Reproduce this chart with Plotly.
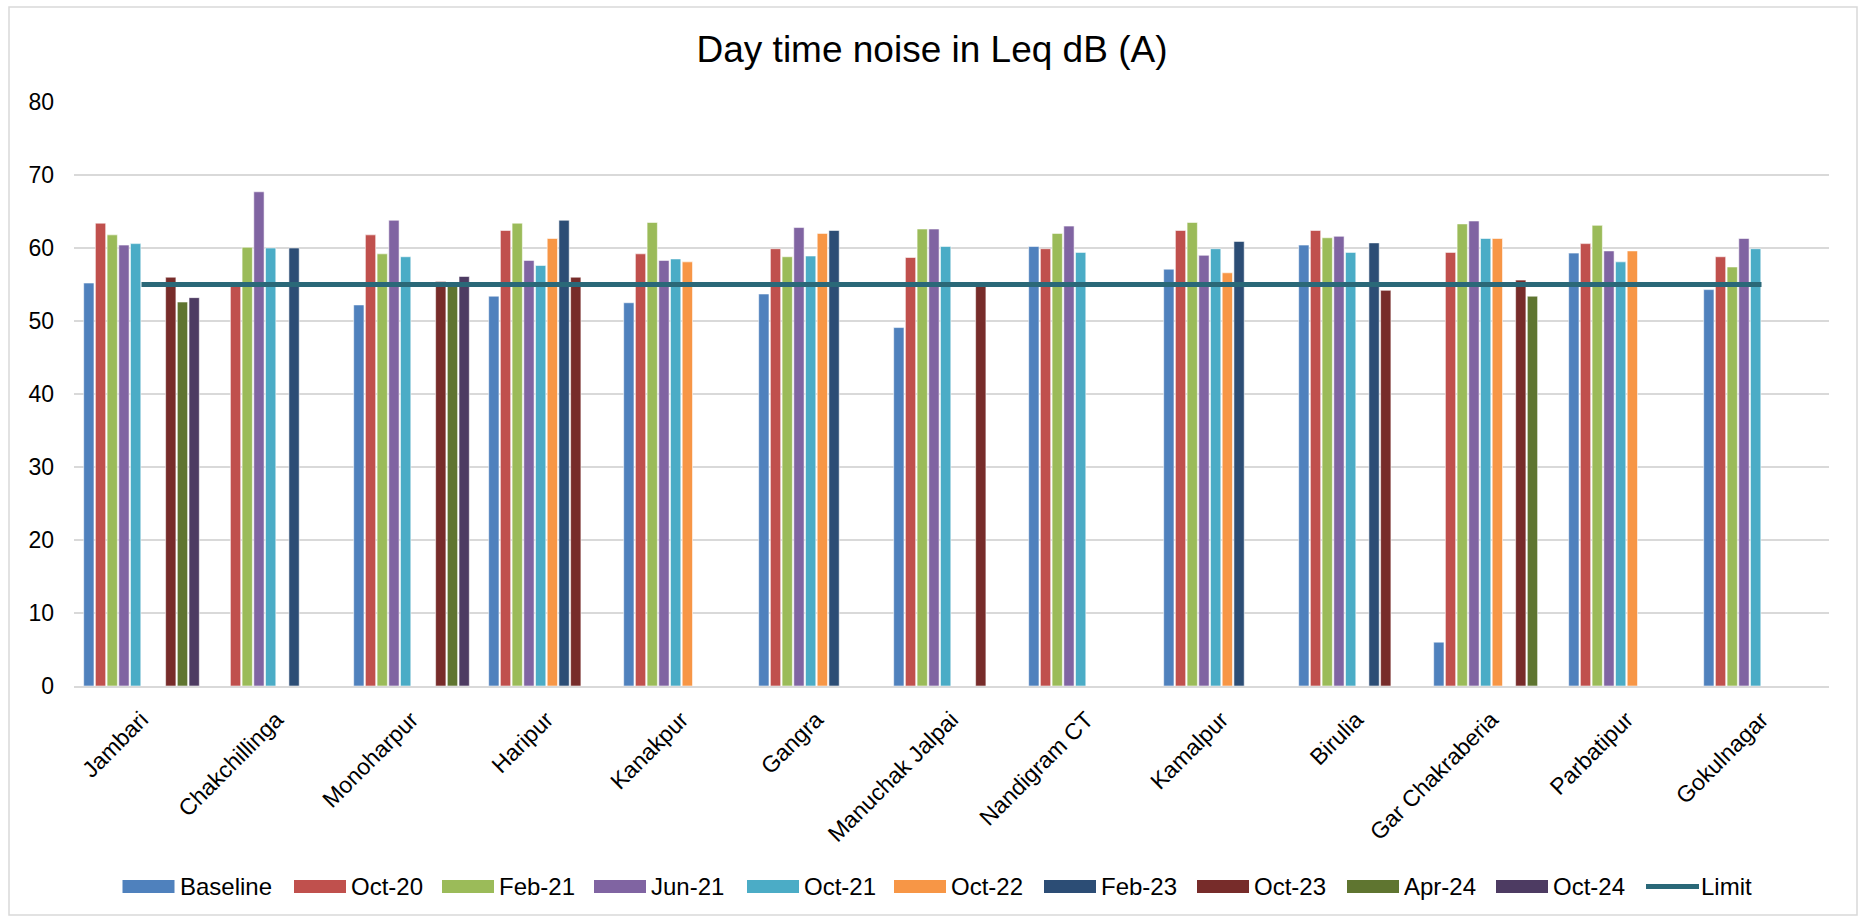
import plotly.graph_objects as go

# ---------------- data ----------------
categories = ["Jambari", "Chakchillinga", "Monoharpur", "Haripur", "Kanakpur", "Gangra",
              "Manuchak Jalpai", "Nandigram CT", "Kamalpur", "Birulia", "Gar Chakraberia",
              "Parbatipur", "Gokulnagar"]

baseline = [55.2, None, 52.2, 53.4, 52.5, 53.7, 49.1, 60.2, 57.1, 60.4, 6.0, 59.3, 54.3]
oct_20 = [63.4, 55.0, 61.8, 62.4, 59.2, 59.9, 58.7, 59.9, 62.4, 62.4, 59.4, 60.6, 58.8]
feb_21 = [61.8, 60.1, 59.2, 63.4, 63.5, 58.8, 62.6, 62.0, 63.5, 61.4, 63.3, 63.1, 57.4]
jun_21 = [60.4, 67.7, 63.8, 58.3, 58.3, 62.8, 62.6, 63.0, 59.0, 61.6, 63.7, 59.6, 61.3]
oct_21 = [60.6, 60.0, 58.8, 57.6, 58.5, 58.9, 60.2, 59.4, 59.9, 59.4, 61.3, 58.1, 59.9]
oct_22 = [None, None, None, 61.3, 58.1, 62.0, None, None, 56.6, None, 61.3, 59.6, None]
feb_23 = [None, 60.0, None, 63.8, None, 62.4, None, None, 60.9, 60.7, None, None, None]
oct_23 = [56.0, None, 55.4, 56.0, None, None, 55.0, None, None, 54.2, 55.6, None, None]
apr_24 = [52.6, None, 55.2, None, None, None, None, None, None, None, 53.4, None, None]
oct_24 = [53.2, None, 56.1, None, None, None, None, None, None, None, None, None, None]
limit = [55] * len(categories)

series_names = ["Baseline", "Oct-20", "Feb-21", "Jun-21", "Oct-21", "Oct-22",
                "Feb-23", "Oct-23", "Apr-24", "Oct-24"]
series_values = [baseline, oct_20, feb_21, jun_21, oct_21, oct_22, feb_23, oct_23, apr_24, oct_24]
limit_name = "Limit"
y_ticks = [0, 10, 20, 30, 40, 50, 60, 70, 80]

# ---------------- styles ----------------
colors = ["#4F81BD", "#C0504D", "#9BBB59", "#8064A2", "#4BACC6", "#F79646",
          "#2C4D75", "#772C2A", "#5F7530", "#4D3B62"]
limit_color = "#2A6878"
FONT = "Liberation Sans, Arial, sans-serif"

W, H = 1864, 920
L, R, T, B = 74, 35, 102, 234
PW, PH = W - L - R, H - T - B


def px_x(px):
    return (px - L) / PW


def px_y(py):
    return (H - B - py) / PH


fig = go.Figure()
for name, vals, col in zip(series_names, series_values, colors):
    fig.add_trace(go.Bar(
        x=categories, y=vals, name=name,
        marker=dict(color=col, line=dict(color="rgba(255,255,255,0.7)", width=0.8)),
        showlegend=False,
    ))

fig.add_trace(go.Scatter(
    x=categories, y=limit, name=limit_name, mode="lines",
    line=dict(color=limit_color, width=5), showlegend=False,
))

# ---------------- custom legend (Excel style) ----------------
legend_left_px = [122.5, 294, 442, 594, 747, 894, 1044, 1197, 1347, 1496, 1644]
legend_y_px = 886.5
sw_w, sw_h = 52, 13
shapes = []
annotations = []
for i, name in enumerate(series_names + [limit_name]):
    x0 = legend_left_px[i]
    if i < len(series_names):
        shapes.append(dict(type="rect", xref="paper", yref="paper",
                           x0=px_x(x0), x1=px_x(x0 + sw_w),
                           y0=px_y(legend_y_px + sw_h / 2), y1=px_y(legend_y_px - sw_h / 2),
                           fillcolor=colors[i], line=dict(width=0)))
    else:
        shapes.append(dict(type="line", xref="paper", yref="paper",
                           x0=px_x(x0 + 2), x1=px_x(x0 + 55),
                           y0=px_y(legend_y_px), y1=px_y(legend_y_px),
                           line=dict(color=limit_color, width=5)))
    annotations.append(dict(text=name, xref="paper", yref="paper",
                            x=px_x(x0 + sw_w + 3), y=px_y(legend_y_px),
                            xanchor="left", yanchor="middle", showarrow=False,
                            font=dict(family=FONT, size=24, color="#000000")))

# outer chart border
shapes.append(dict(type="rect", xref="paper", yref="paper",
                   x0=px_x(9), x1=px_x(1857), y0=px_y(915), y1=px_y(7),
                   line=dict(color="#d9d9d9", width=1.5), fillcolor="rgba(0,0,0,0)",
                   layer="below"))

fig.update_layout(
    width=W, height=H, autosize=False,
    margin=dict(l=L, r=R, t=T, b=B, pad=0),
    paper_bgcolor="white", plot_bgcolor="white",
    barmode="group", bargap=0.133, bargroupgap=0.12,
    title=dict(text="Day time noise in Leq dB (A)", x=0.5, xanchor="center",
               xref="container", yref="container", y=1 - 49 / H, yanchor="middle",
               font=dict(family=FONT, size=37, color="#000000")),
    font=dict(family=FONT, color="#000000"),
    showlegend=False,
    shapes=shapes,
    annotations=annotations,
)

fig.update_yaxes(range=[0, 80], tickvals=y_ticks, showgrid=True, gridcolor="#d9d9d9",
                 gridwidth=1.5, zeroline=False, showline=False, ticks="",
                 ticklabelstandoff=19,
                 tickfont=dict(family=FONT, size=23, color="#000000"))
fig.update_xaxes(showline=True, linecolor="#d9d9d9", linewidth=2, showgrid=False,
                 tickangle=-45, ticks="", ticklabelstandoff=9,
                 tickfont=dict(family=FONT, size=23, color="#000000"))

fig.write_html(
    "out.html",
    config={"displayModeBar": False},
    post_script="document.body.style.margin='0';document.body.style.overflow='hidden';",
)
